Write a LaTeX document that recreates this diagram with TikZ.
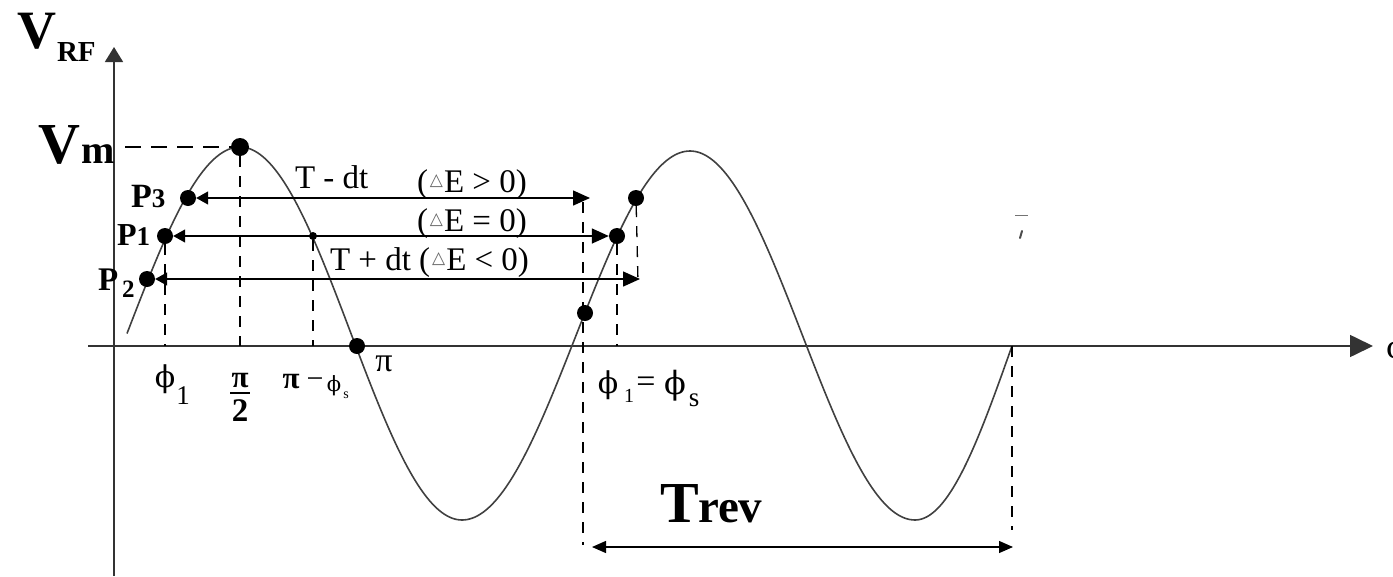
\documentclass[tikz,border=0pt]{standalone}
\usepackage{fontspec}
\setmainfont{Liberation Serif}
\newfontfamily\dvs{DejaVu Serif}
\newfontfamily\dvsans{DejaVu Sans}
\usetikzlibrary{arrows.meta}
\newcommand\fsz[1]{\fontsize{#1}{#1}\selectfont}
\newcommand\tri{\hspace{2pt}{\dvsans\fsz{17}\color{black!60}\raisebox{7pt}{△}}\hspace{1pt}}
\begin{document}
\begin{tikzpicture}[x=1pt,y=-1pt,
  axis/.style={line width=1.6pt, draw=black!80},
  curve/.style={line width=1.6pt, draw=black!75},
  guide/.style={line width=1.3pt, dash pattern=on 11pt off 9pt},
  vmdash/.style={line width=2pt, dash pattern=on 16pt off 10pt},
  dot/.style={circle, fill=black, inner sep=0pt, minimum size=16pt},
  sdot/.style={circle, fill=black, inner sep=0pt, minimum size=8pt},
  lbl/.style={inner sep=0pt, outer sep=0pt},
  span/.style={line width=1.5pt, {Triangle[length=12pt,width=13pt]}-{Triangle[length=17pt,width=15pt]}},
  trev/.style={line width=1.3pt, {Triangle[length=14pt,width=12pt]}-{Triangle[length=14pt,width=12pt]}}
]
\useasboundingbox (0,0) rectangle (1393,576);
% axes
\coordinate (o) at (114,346);
\coordinate (ybot) at (114,576);
\coordinate (ytop) at (114,47);
\coordinate (xl) at (88,346);
\coordinate (xr) at (1373,346);
\draw[axis,-{Triangle[length=15pt,width=18pt]}] (ybot) -- (ytop);
\draw[axis,-{Triangle[length=23pt,width=22pt]}] (xl) -- (xr);
% curve
\draw[curve] plot[domain=127:240, samples=50] (\x, {333.5-186.5*sin((\x-127)/113*90)})
  -- plot[domain=240:462, samples=90] (\x, {333.5-186.5*cos((\x-240)/222*180)})
  -- plot[domain=462:690, samples=90] (\x, {335.5+184.5*cos((\x-462)/228*180)})
  -- plot[domain=690:915, samples=90] (\x, {335.5-184.5*cos((\x-690)/225*180)})
  -- plot[domain=915:1012, samples=50] (\x, {346+174*cos((\x-915)/97*90)});
% dots
\node[dot] (p3) at (188,198) {};
\node[dot] (p1) at (165,236) {};
\node[dot] (p2) at (147,279) {};
\node[dot, minimum size=18pt] (pk) at (240,147) {};
\node[dot] (pipt) at (357,346) {};
\node[dot] (q0) at (585,313) {};
\node[dot] (q1) at (617,236) {};
\node[dot] (q3) at (636,198) {};
\node[sdot] (m1) at (313,236) {};
% Vm dashed
\coordinate (vm) at (125,147);
\draw[vmdash] (vm) -- (pk);
% guides
\draw[guide] (p1) -- (p1 |- o);
\draw[guide] (pk) -- (pk |- o);
\draw[guide] (m1) -- (m1 |- o);
\coordinate (g0t) at (583,202);
\coordinate (g0b) at (583,545);
\draw[guide] (g0t) -- (g0b);
\draw[guide] (q1) -- (q1 |- o);
\coordinate (g3b) at (638,282);
\draw[guide] (q3) -- (g3b);
\coordinate (g4t) at (1012,346);
\coordinate (g4b) at (1012,530);
\draw[guide] (g4t) -- (g4b);
% horizontal arrows
\coordinate (r3) at (590,198);
\coordinate (r2) at (640,279);
\draw[span] (p3) -- (p3 -| r3);
\draw[span] (p1) -- (q1);
\draw[span] (p2) -- (p2 -| r2);
% Trev arrow
\coordinate (t1) at (592,547);
\coordinate (t2) at (1013,547);
\draw[trev] (t1) -- (t2);
% artifact marks
\draw[line width=1pt, black!55] (1015,215) -- (1028,215);
\draw[line width=2pt, black!70, line cap=round] (1022,231) -- (1020,238);
% labels
\node[lbl, anchor=base west] (vrf) at (17,48) {\fsz{54}\bfseries V};
\node[lbl, anchor=base west] (vrfs) at (57,61) {\fsz{29}\bfseries RF};
\node[lbl, anchor=base west] (vmv) at (38,163) {\fsz{58}\bfseries V};
\node[lbl, anchor=base west] (vmm) at (81,163) {\fsz{40}\bfseries m};
\node[lbl, anchor=base west] (l3) at (131,207) {\fsz{34}\bfseries P\fsz{27}3};
\node[lbl, anchor=base west] (l1) at (117,245) {\fsz{32}\bfseries P\fsz{27}1};
\node[lbl, anchor=base west] (l2) at (98,290) {\fsz{33}\bfseries P};
\node[lbl, anchor=base west] (l2s) at (122,297) {\fsz{25}\bfseries 2};
\node[lbl, anchor=base west] (tm) at (295,188) {\fsz{33}T - dt};
\node[lbl, anchor=base west] (eg) at (417,192) {\fsz{33}(\tri E > 0)};
\node[lbl, anchor=base west] (ee) at (417,231) {\fsz{33}(\tri E = 0)};
\node[lbl, anchor=base west] (tp) at (330,270) {\fsz{33}T + dt (\tri E < 0)};
% bottom labels
\node[lbl] (ph1) at (165,379) {\dvs\fsz{30}ϕ};
\node[lbl] (ph1s) at (183,396) {\fsz{27}1};
\node[lbl] (hpi) at (240,381) {\fsz{31}\bfseries π};
\coordinate (hbar) at (240,393);
\draw[line width=2pt] ([xshift=-10pt]hbar) -- ([xshift=10pt]hbar);
\node[lbl] (htwo) at (240,411) {\fsz{33}\bfseries 2};
\node[lbl] (pmp) at (291,382) {\fsz{31}\bfseries π};
\node[lbl] (pmm) at (315,383) {\fsz{30}−};
\node[lbl] (pmf) at (334,386) {\dvs\fsz{21}ϕ};
\node[lbl] (pms) at (346,395) {\fsz{14}s};
\node[lbl] (pil) at (384,364) {\fsz{34}π};
\node[lbl] (rf1) at (608,385) {\dvs\fsz{30}ϕ};
\node[lbl] (rf1s) at (629,396) {\fsz{20}1};
\node[lbl] (req) at (646,385) {\fsz{34}=};
\node[lbl] (rfs) at (675,386) {\dvs\fsz{32}ϕ};
\node[lbl] (rfss) at (694,400) {\fsz{27}s};
\node[lbl, anchor=base west] (trT) at (660,522) {\fsz{58}\bfseries T};
\node[lbl, anchor=base west] (trr) at (698,522) {\fsz{47}\bfseries rev};
\node[lbl] (phr) at (1397,350) {\dvs\fsz{31}ϕ};
\end{tikzpicture}
\end{document}
